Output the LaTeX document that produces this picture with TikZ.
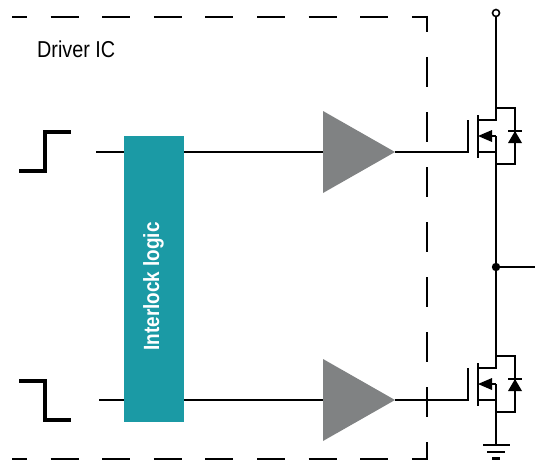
\documentclass[tikz,border=0pt]{standalone}
\usepackage{fontspec}
\setmainfont{Liberation Sans}
\newfontfamily\condfont{Liberation Sans}[FakeStretch=0.86]
\definecolor{logicteal}{RGB}{27,154,165}
\definecolor{ampgray}{RGB}{128,130,131}
\tikzset{
  wire/.style={line width=2.1pt, line cap=butt},
  stepline/.style={line width=3.1pt, line join=miter},
  border/.style={line width=2.1pt},
  mosfet/.pic={
    \draw[wire] (0,0) -- (19,0) -- (19,56) -- (0,56);
    \draw[wire] (0,-1) -- (0,12) -- (-18,12);
    \draw[wire] (-18,7) -- (-18,50);
    \draw[wire] (-18,44) -- (0,44);
    \draw[wire] (0,28) -- (0,56);
    \draw[wire] (0,28) -- (-10,28);
    \fill (-18,28) -- (-4,22) -- (-4,34) -- cycle;
    \draw[wire] (-28,12) -- (-28,45);
    \fill (19,23) -- (12,35) -- (26,35) -- cycle;
    \draw[wire] (12,23) -- (26,23);
    \coordinate (-drain) at (0,0);
    \coordinate (-gate) at (-28,44);
    \coordinate (-source) at (0,56);
  },
  amp/.pic={
    \fill[ampgray] (0,-41) -- (72,0) -- (0,41) -- cycle;
    \coordinate (-in) at (0,0);
    \coordinate (-out) at (72,0);
  }
}
\begin{document}
\begin{tikzpicture}[x=1pt,y=-1pt]
\useasboundingbox (0,0) rectangle (535,460);

% dashed driver IC border
\draw[border, dash pattern=on 28pt off 23.6pt, dash phase=13pt] (12,17) -- (428,17);
\draw[border, dash pattern=on 28pt off 23.6pt, dash phase=13pt] (12,459) -- (428,459);
\draw[border, dash pattern=on 30pt off 25pt, dash phase=14pt] (427,16) -- (427,460);

\node[anchor=base west, inner sep=0pt, font=\condfont\fontsize{23}{23}\selectfont] (title) at (37,57) {Driver IC};

% input waveforms
\draw[stepline] (19,171) -- (45,171) -- (45,132) -- (71,132);
\draw[stepline] (19,381) -- (45,381) -- (45,420) -- (71,420);

% amplifiers
\pic (a1) at (323,152) {amp};
\pic (a2) at (323,400) {amp};

% MOSFETs
\pic (q1) at (496,108) {mosfet};
\pic (q2) at (496,356) {mosfet};

% signal lines
\coordinate (in1) at (96,152);
\coordinate (in2) at (99,400);
\draw[wire] (in1) -- (a1-in);
\draw[wire] (in2) -- (a2-in);
\draw[wire] (a1-out) -- (q1-gate);
\draw[wire] (a2-out) -- (q2-gate);

% interlock logic block
\node[fill=logicteal, minimum width=60pt, minimum height=286pt, inner sep=0pt] (logic) at (154,279) {};
\node[rotate=90, text=white, inner sep=0pt, font=\condfont\bfseries\fontsize{22}{22}\selectfont] (logictext) at (153.4,286.5) {Interlock logic};

% supply, half bridge, ground
\coordinate (vplus) at (496,16.5);
\draw[line width=1.6pt] (496,13) circle (3.5pt);
\draw[wire] (vplus) -- (q1-drain);
\coordinate (mid) at (496,267);
\coordinate (out) at (535,267);
\draw[wire] (q1-source) -- (mid) -- (q2-drain);
\draw[wire] (mid) -- (out);
\fill (mid) circle (4.2pt);
\coordinate (gnd) at (496,445);
\draw[wire] (q2-source) -- (gnd);
\draw[wire] (483,445) -- (510,445);
\draw[wire] (487,452) -- (505,452);
\draw[wire] (492,458.5) -- (500,458.5);
\end{tikzpicture}
\end{document}
